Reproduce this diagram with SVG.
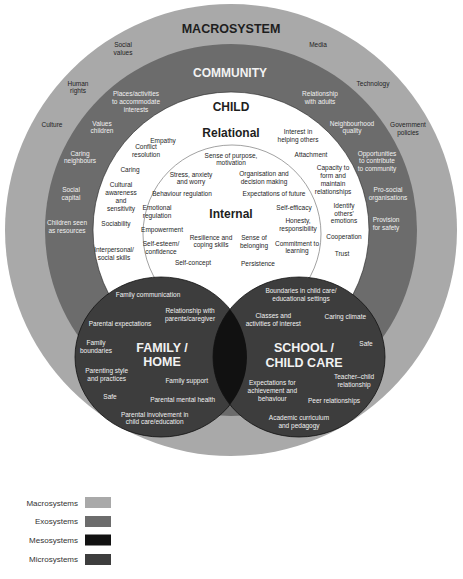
<svg xmlns="http://www.w3.org/2000/svg" width="463" height="579" viewBox="0 0 463 579">
<style>
text{font-family:"Liberation Sans",Arial,sans-serif;text-anchor:middle}
.s{font-size:6.5px}
.d{fill:#1e1e1e}
.w{fill:#f2f2f2}
.h{font-weight:bold;font-size:12px}
.lg{font-size:8px;text-anchor:end;fill:#333}
.micro{fill:#3d3d3d;stroke:#111;stroke-width:0.8}
</style>
<rect width="463" height="579" fill="#fff"/>
<g id="macrosystem">
<circle cx="231" cy="230" r="226" fill="#a9a9a9"/>
<text class="h d" x="231" y="33" style="font-size:12.5px">MACROSYSTEM</text>
<g class="s d">
<text x="123" y="47.3">Social<tspan x="123" dy="7.7">values</tspan></text>
<text x="78" y="85.6">Human<tspan x="78" dy="7.7">rights</tspan></text>
<text x="52" y="127.3">Culture</text>
<text x="318" y="47.3">Media</text>
<text x="373" y="85.6">Technology</text>
<text x="408" y="127.3">Government<tspan x="408" dy="7.7">policies</tspan></text>
</g>
</g>
<g id="community">
<circle cx="231" cy="230" r="186" fill="#6c6c6c"/>
<text class="h w" x="230" y="77">COMMUNITY</text>
<g class="s w">
<text x="136" y="96.3">Places/activities<tspan x="136" dy="7.7">to accommodate</tspan><tspan x="136" dy="7.7">interests</tspan></text>
<text x="102" y="125.6">Values<tspan x="102" dy="7.7">children</tspan></text>
<text x="80" y="155.6">Caring<tspan x="80" dy="7.7">neighbours</tspan></text>
<text x="71" y="191.6">Social<tspan x="71" dy="8">capital</tspan></text>
<text x="67" y="225">Children seen<tspan x="67" dy="8">as resources</tspan></text>
<text x="320" y="96.3">Relationship<tspan x="320" dy="7.7">with adults</tspan></text>
<text x="352" y="125.6">Neighbourhood<tspan x="352" dy="7.7">quality</tspan></text>
<text x="377" y="155.6">Opportunities<tspan x="377" dy="7.7">to contribute</tspan><tspan x="377" dy="7.7">to community</tspan></text>
<text x="388" y="191.6">Pro-social<tspan x="388" dy="8">organisations</tspan></text>
<text x="386" y="222.3">Provision<tspan x="386" dy="8">for safety</tspan></text>
</g>
</g>
<g id="child">
<circle cx="231" cy="230" r="138" fill="#fff" stroke="#222" stroke-width="0.6"/>
<text class="h d" x="231" y="111">CHILD</text>
<text class="h d" x="231" y="137">Relational</text>
<g class="s d">
<text x="163" y="143.3">Empathy</text>
<text x="146" y="149">Conflict<tspan x="146" dy="7.7">resolution</tspan></text>
<text x="130" y="172.3">Caring</text>
<text x="121" y="186.6">Cultural<tspan x="121" dy="8">awareness</tspan><tspan x="121" dy="8">and</tspan><tspan x="121" dy="8">sensitivity</tspan></text>
<text x="116" y="225.6">Sociability</text>
<text x="114" y="251.6">Interpersonal/<tspan x="114" dy="8">social skills</tspan></text>
<text x="298" y="134">Interest in<tspan x="298" dy="7.7">helping others</tspan></text>
<text x="311" y="156.6">Attachment</text>
<text x="333" y="169.6">Capacity to<tspan x="333" dy="8">form and</tspan><tspan x="333" dy="8">maintain</tspan><tspan x="333" dy="8">relationships</tspan></text>
<text x="344" y="207.6">Identify<tspan x="344" dy="8">others'</tspan><tspan x="344" dy="7.7">emotions</tspan></text>
<text x="344" y="239">Cooperation</text>
<text x="342" y="255.6">Trust</text>
</g>
</g>
<g id="internal">
<circle cx="232" cy="234" r="89" fill="#fff" stroke="#7a7a7a" stroke-width="0.7"/>
<text class="h d" x="231" y="218">Internal</text>
<g class="s d">
<text x="231" y="158">Sense of purpose,<tspan x="231" dy="7">motivation</tspan></text>
<text x="191" y="176.6">Stress, anxiety<tspan x="191" dy="7.7">and worry</tspan></text>
<text x="264" y="176.3">Organisation and<tspan x="264" dy="7.7">decision making</tspan></text>
<text x="182" y="196.3">Behaviour regulation</text>
<text x="274" y="196.3">Expectations of future</text>
<text x="294" y="209.6">Self-efficacy</text>
<text x="157" y="210">Emotional<tspan x="157" dy="8">regulation</tspan></text>
<text x="298" y="223.3">Honesty,<tspan x="298" dy="7.7">responsibility</tspan></text>
<text x="162" y="231.6">Empowerment</text>
<text x="211" y="239.6">Resilience and<tspan x="211" dy="7.7">coping skills</tspan></text>
<text x="254" y="240">Sense of<tspan x="254" dy="7.7">belonging</tspan></text>
<text x="297" y="245.6">Commitment to<tspan x="297" dy="7.7">learning</tspan></text>
<text x="161" y="246.3">Self-esteem/<tspan x="161" dy="7.3">confidence</tspan></text>
<text x="193" y="265">Self-concept</text>
<text x="258" y="265.6">Persistence</text>
</g>
</g>
<g id="family">
<ellipse class="micro" cx="161" cy="357" rx="86" ry="80"/>
</g>
<g id="school">
<ellipse class="micro" cx="299" cy="357" rx="86" ry="80"/>
</g>
<g id="mesosystem">
<path d="M230 309.3 A86 80 0 0 1 230 404.7 A86 80 0 0 1 230 309.3 Z" fill="#111"/>
</g>
<g id="family-labels">
<g class="h w" style="font-size:12.5px"><text x="162" y="352">FAMILY /</text><text x="162" y="366">HOME</text></g>
<g class="s w">
<text x="148" y="296.6">Family communication</text>
<text x="190" y="313">Relationship with<tspan x="190" dy="7.7">parents/caregiver</tspan></text>
<text x="120" y="326.3">Parental expectations</text>
<text x="96" y="345">Family<tspan x="96" dy="8">boundaries</tspan></text>
<text x="106.7" y="373">Parenting style<tspan x="106.7" dy="8">and practices</tspan></text>
<text x="186.7" y="383">Family support</text>
<text x="110" y="399">Safe</text>
<text x="182.7" y="401.6">Parental mental health</text>
<text x="154.7" y="416.6">Parental involvement in<tspan x="154.7" dy="7.7">child care/education</tspan></text>
</g>
</g>
<g id="school-labels">
<g class="h w" style="font-size:12.5px"><text x="304" y="352">SCHOOL /</text><text x="304" y="367">CHILD CARE</text></g>
<g class="s w">
<text x="301" y="293">Boundaries in child care/<tspan x="301" dy="8">educational settings</tspan></text>
<text x="273.3" y="318.3">Classes and<tspan x="273.3" dy="8">activities of interest</tspan></text>
<text x="345.3" y="319">Caring climate</text>
<text x="366" y="345.6">Safe</text>
<text x="354" y="379">Teacher–child<tspan x="354" dy="8">relationship</tspan></text>
<text x="272.3" y="384.6">Expectations for<tspan x="272.3" dy="8">achievement and</tspan><tspan x="272.3" dy="8">behaviour</tspan></text>
<text x="334" y="403.3">Peer relationships</text>
<text x="299" y="419.6">Academic curriculum<tspan x="299" dy="8">and pedagogy</tspan></text>
</g>
</g>
<g id="connectors"></g>
<g id="legend">
<g id="legend-macro"><text class="lg" x="78" y="505.8">Macrosystems</text><rect x="85" y="497" width="26" height="11" fill="#a9a9a9"/></g>
<g id="legend-exo"><text class="lg" x="78" y="524.3">Exosystems</text><rect x="85" y="516" width="26" height="11" fill="#6c6c6c"/></g>
<g id="legend-meso"><text class="lg" x="78" y="542.8">Mesosystems</text><rect x="85" y="534.5" width="26" height="11" fill="#111"/></g>
<g id="legend-micro"><text class="lg" x="78" y="562.3">Microsystems</text><rect x="85" y="554" width="26" height="11" fill="#3d3d3d"/></g>
</g>
</svg>
